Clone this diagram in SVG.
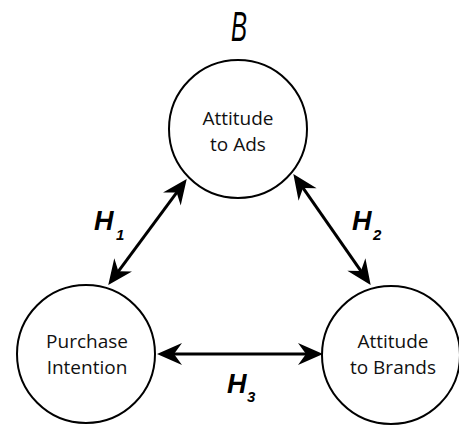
<svg xmlns="http://www.w3.org/2000/svg" width="459" height="426" viewBox="0 0 459 426">
<defs>
<style>
.node circle{fill:#fff;stroke:#000;stroke-width:2}
.node text{font-family:"Open Sans","Noto Sans",sans-serif;font-size:19px;fill:#111;text-anchor:middle}
.conn line{stroke:#000;stroke-width:3}
.lbl{font-family:"Liberation Sans",Arial,sans-serif;font-style:italic;font-weight:bold;fill:#000}
.h{font-size:27px}
.sub{font-size:15px}
</style>
<marker id="ah" markerUnits="userSpaceOnUse" viewBox="-14 -12 28 24" refX="0" refY="0" markerWidth="28" markerHeight="24" orient="auto-start-reverse" overflow="visible">
<path d="M12,0 L-13,-11 L-5,0 L-13,11 Z" fill="#000"/>
</marker>
</defs>
<rect width="459" height="426" fill="#fff"/>
<text x="239" y="41" class="lbl" style="font-weight:normal;font-size:42px" textLength="16" lengthAdjust="spacingAndGlyphs" text-anchor="middle">B</text>
<g id="node-ads" class="node">
<circle cx="238" cy="129" r="69"/>
<text x="238" y="125">Attitude</text>
<text x="238" y="151">to Ads</text>
</g>
<g id="node-purchase" class="node">
<circle cx="86" cy="354" r="69"/>
<text x="87" y="348">Purchase</text>
<text x="87" y="374">Intention</text>
</g>
<g id="node-brands" class="node">
<circle cx="391" cy="355" r="69"/>
<text x="393" y="348">Attitude</text>
<text x="393" y="374">to Brands</text>
</g>
<g id="connectors" class="conn">
<line x1="115.4" y1="275.3" x2="179.6" y2="188.6" marker-start="url(#ah)" marker-end="url(#ah)"/>
<line x1="300.2" y1="183.8" x2="363.8" y2="275.2" marker-start="url(#ah)" marker-end="url(#ah)"/>
<line x1="169" y1="354" x2="311" y2="354" marker-start="url(#ah)" marker-end="url(#ah)"/>
</g>
<g id="labels">
<text class="lbl" x="94" y="230"><tspan class="h">H</tspan><tspan class="sub" x="116" y="240">1</tspan></text>
<text class="lbl" x="352" y="230"><tspan class="h">H</tspan><tspan class="sub" x="373" y="240">2</tspan></text>
<text class="lbl" x="227" y="393"><tspan class="h">H</tspan><tspan class="sub" x="247" y="402">3</tspan></text>
</g>
</svg>
